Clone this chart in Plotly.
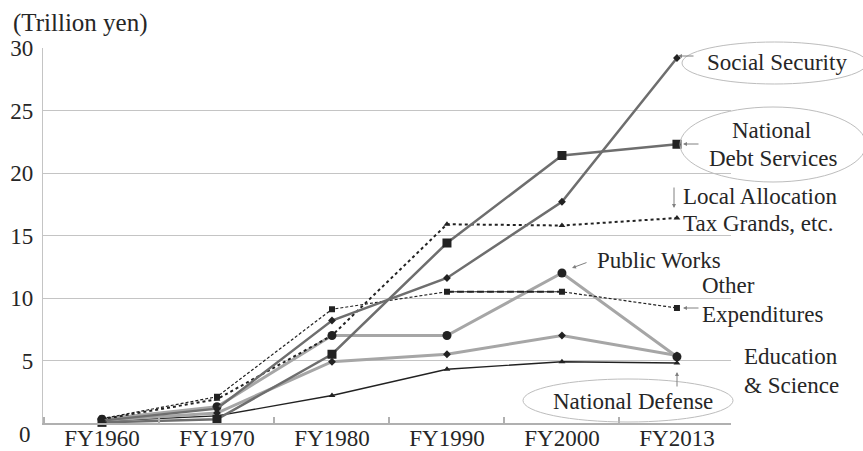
import plotly.graph_objects as go

# ---- data (trillion yen) ----
years = ["FY1960", "FY1970", "FY1980", "FY1990", "FY2000", "FY2013"]
social_security = [0.19, 1.15, 8.2, 11.6, 17.7, 29.2]
debt_services = [0.05, 0.3, 5.5, 14.4, 21.4, 22.3]
local_allocation = [0.3, 1.9, 7.0, 15.9, 15.8, 16.4]
public_works = [0.3, 1.3, 7.0, 7.0, 12.0, 5.3]
other_expenditures = [0.35, 2.1, 9.1, 10.5, 10.5, 9.2]
education_science = [0.2, 0.8, 4.9, 5.5, 7.0, 5.4]
national_defense = [0.16, 0.57, 2.2, 4.3, 4.9, 4.8]
y_ticks = [5, 10, 15, 20, 25, 30]

xi = list(range(len(years)))
FONT = "Liberation Serif, Times New Roman, DejaVu Serif, serif"
TXT = "#262626"

fig = go.Figure()

def add_line(vals, color, width, dash, symbol, msize, xs=None):
    fig.add_trace(go.Scatter(
        x=xs if xs is not None else xi, y=vals, mode="lines+markers" if symbol else "lines",
        line=dict(color=color, width=width, dash=dash),
        marker=dict(symbol=symbol or "circle", size=msize, color="#222222"),
        showlegend=False, hoverinfo="skip", cliponaxis=False))

add_line(national_defense, "#222222", 1.3, "solid", "triangle-up", 6)
add_line(education_science, "#a6a6a6", 3, "solid", "diamond", 6)
add_line(public_works, "#a6a6a6", 3, "solid", "circle", 9)
add_line(other_expenditures, "#222222", 1.2, "3px,2px", "square", 6)
add_line(other_expenditures[3:5], "#222222", 2.2, "7px,3px", None, 0, xs=xi[3:5])
add_line(local_allocation, "#222222", 2.0, "3px,3px", "triangle-up", 6)
add_line(debt_services, "#6e6e6e", 2.5, "solid", "square", 9)
add_line(social_security, "#6e6e6e", 2.5, "solid", "diamond", 6)

# ---- layout geometry (pixels) ----
W, H = 863, 451
L, R, T, B = 43, 731, 48, 423

def px(x):
    return (x - L) / (R - L)

def py(y):
    return (B - y) / (B - T)

fig.update_layout(
    template="none",
    width=W, height=H, autosize=False,
    margin=dict(l=L, r=W - R, t=T, b=H - B, pad=0),
    paper_bgcolor="white", plot_bgcolor="white",
    font=dict(family=FONT, size=23, color=TXT),
    xaxis=dict(range=[-0.513, 5.47], tickvals=xi, ticktext=years, automargin=False,
               ticklabelstandoff=-6,
               showgrid=False, zeroline=False, showline=True,
               linecolor="#b0b0b0", linewidth=1.5, ticks="",
               minor=dict(tick0=-0.5, dtick=1, ticks="inside", ticklen=6,
                          tickcolor="#b0b0b0", tickwidth=1.5, showgrid=False),
               tickfont=dict(family=FONT, size=23, color=TXT)),
    yaxis=dict(range=[0, 30], tickvals=y_ticks, ticktext=[str(v) for v in y_ticks],
               automargin=False, ticklabelstandoff=4,
               showgrid=True, gridcolor="#c4c4c4", gridwidth=1.3,
               zeroline=False, showline=True, linecolor="#c4c4c4", linewidth=1.3,
               ticks="", tickfont=dict(family=FONT, size=23, color=TXT)),
)

ann = []
def text(s, x, y, xanchor="left", size=23):
    ann.append(dict(text=s, xref="paper", yref="paper", x=px(x), y=py(y),
                    xanchor=xanchor, yanchor="middle", showarrow=False,
                    font=dict(family=FONT, size=size, color=TXT)))

def arrow(hx, hy, tx, ty):
    ann.append(dict(text="", xref="paper", yref="paper", x=px(hx), y=py(hy),
                    ax=tx - hx, ay=ty - hy, showarrow=True, arrowhead=2,
                    arrowsize=0.8, arrowwidth=1, arrowcolor="#808080",
                    standoff=0, startstandoff=0))

text("(Trillion yen)", 11, 23, size=25)
text("0", 33, 434, xanchor="right")
text("Social Security", 777, 62, xanchor="center")
text("National", 771, 130, xanchor="center")
text("Debt Services", 773, 158, xanchor="center")
text("Local Allocation", 681, 196)
text("Tax Grands, etc.", 681, 223)
text("Public Works", 595, 260)
text("Other", 700, 285)
text("Expenditures", 700, 314)
text("Education", 742, 356)
text("& Science", 742, 385)
text("National Defense", 633, 401, xanchor="center")

arrow(678, 56, 695, 56)
arrow(683, 144, 700, 144)
arrow(674, 208, 674, 186)
arrow(572, 268, 588, 262)
arrow(683, 308, 700, 308)
arrow(677, 372, 677, 388)

fig.update_layout(annotations=ann)

shapes = []
def ellipse(x0, y0, x1, y1):
    shapes.append(dict(type="circle", xref="paper", yref="paper",
                       x0=px(x0), x1=px(x1), y0=py(y1), y1=py(y0),
                       line=dict(color="#bdbdbd", width=1), layer="above"))

ellipse(682, 42, 867, 84)
ellipse(680, 107, 866, 182)
ellipse(523, 379, 733, 422)
fig.update_layout(shapes=shapes)

fig.write_html("out.html", config={"displayModeBar": False},
               post_script="document.body.style.margin='0px';"
                           "document.body.style.overflow='hidden';")
